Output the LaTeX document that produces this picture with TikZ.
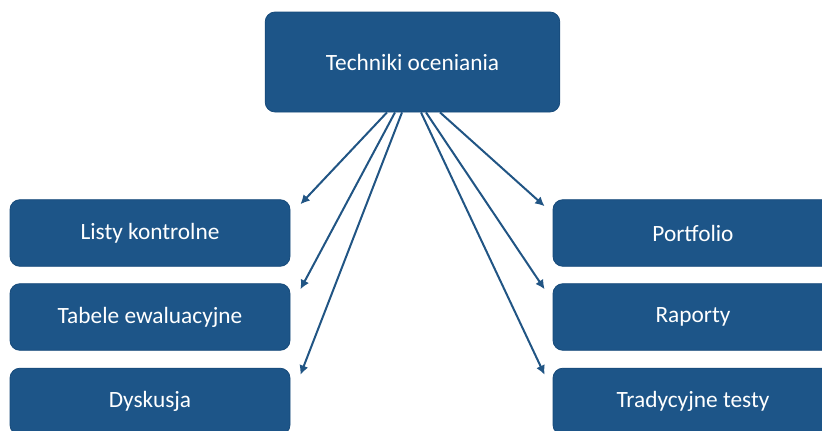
\documentclass[tikz,border=0pt]{standalone}
\usepackage{fontspec}
\setmainfont{Carlito}
\usepackage{tikz}
\usetikzlibrary{calc,arrows.meta}
\definecolor{boxblue}{HTML}{1D5588}
\definecolor{boxedge}{HTML}{164A7A}
\definecolor{linkblue}{HTML}{215584}
\tikzset{
  box/.style={draw=boxedge, fill=boxblue, line width=0.6pt, rounded corners=7.5pt,
    text=white, font=\fontsize{17.5}{20}\selectfont,
    minimum width=210pt, minimum height=50pt},
  topbox/.style={box, minimum width=221pt, minimum height=75pt},
  link/.style={draw=linkblue, line width=1.5pt, -{Latex[length=7pt,width=7pt]}}
}

\begin{document}
\begin{tikzpicture}[x=0.75pt,y=0.75pt]
\useasboundingbox (0,0) rectangle (822,430);
\clip (0,0) rectangle (822,430);
% main box
\node[topbox] (tech) at (412.5,368) {Techniki oceniania};

% left column
\node[box] (listy) at (150,197) {Listy kontrolne};
\node[box] (tabele) at (150,113) {Tabele ewaluacyjne};
\node[box] (dysk) at (150,28.5) {Dyskusja};

% right column
\node[box] (port) at (693,197) {Portfolio};
\node[box] (rap) at (693,113) {Raporty};
\node[box] (testy) at (693,28.5) {Tradycyjne testy};

% start points on the bottom edge of the main box
\coordinate (s1) at ($(tech.south)+(-25.5,0)$);
\coordinate (s2) at ($(tech.south)+(-17.5,0)$);
\coordinate (s3) at ($(tech.south)+(-10.5,0)$);
\coordinate (s4) at ($(tech.south)+(27.5,0)$);
\coordinate (s5) at ($(tech.south)+(13.5,0)$);
\coordinate (s6) at ($(tech.south)+(8.5,0)$);

% arrows to the left column
\draw[link] (s1) -- ($(listy.north east)+(10,-5)$);
\draw[link] (s2) -- ($(tabele.north east)+(10,-6)$);
\draw[link] (s3) -- ($(dysk.north east)+(10,-7)$);

% arrows to the right column
\draw[link] (s4) -- ($(port.north west)+(-8,-7)$);
\draw[link] (s5) -- ($(rap.north west)+(-8,-6)$);
\draw[link] (s6) -- ($(testy.north west)+(-8,-7)$);
\end{tikzpicture}
\end{document}
